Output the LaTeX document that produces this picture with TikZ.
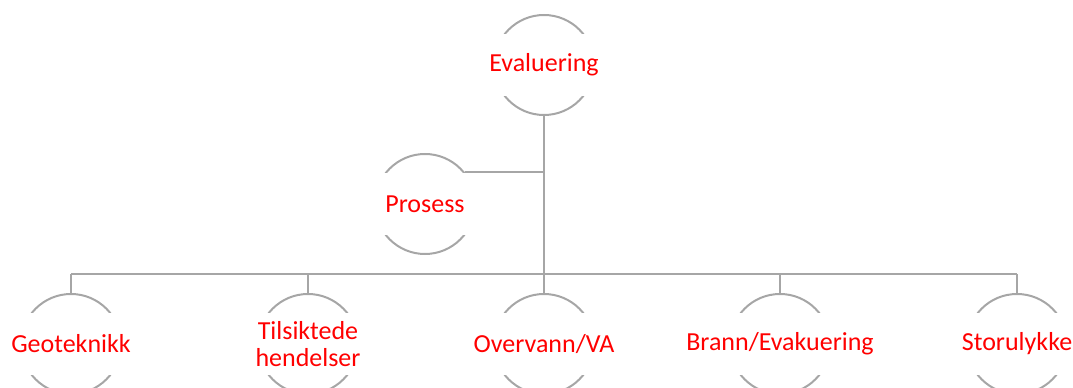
\documentclass[tikz,border=0pt]{standalone}
\usepackage{fontspec}
\setmainfont{Carlito}
\usepackage{tikz}
\usepackage{xcolor}
\definecolor{linegray}{RGB}{166,166,166}
\tikzset{every picture/.style={line width=0.75pt}}
\tikzset{
  ring/.style={circle, draw=linegray, line width=1.5pt, minimum size=75pt, inner sep=0pt},
  ringtext/.style={fill=white, text=red, font=\fontsize{19.5}{20.5}\selectfont, align=center, minimum width=82pt, minimum height=47pt, inner sep=0pt},
  link/.style={draw=linegray, line width=1.5pt}
}

\begin{document}
\begin{tikzpicture}[x=0.75pt,y=0.75pt,yscale=-1,xscale=1]
\useasboundingbox (0,0) rectangle (1073,388);

%Shape: Circle [top]
\node [ring] (eval) at (544,65) {};
%Shape: Circle [side]
\node [ring] (pros) at (425,204) {};
%Shape: Circle [bottom row]
\node [ring] (geo) at (71,344) {};
\node [ring] (tils) at (308,344) {};
\node [ring] (over) at (544,344) {};
\node [ring] (brann) at (780,344) {};
\node [ring] (stor) at (1017,344) {};

% Text Node
\node [ringtext] (evalT) at (eval.center) {Evaluering};
% Text Node
\node [ringtext] (prosT) at (pros.center) {Prosess};
% Text Node
\node [ringtext] (geoT) at (geo.center) {Geoteknikk};
% Text Node
\node [ringtext] (tilsT) at (tils.center) {Tilsiktede\\hendelser};
% Text Node
\node [ringtext] (overT) at (over.center) {Overvann/VA};
% Text Node
\node [ringtext] (brannT) at (brann.center) {Brann/Evakuering};
% Text Node
\node [ringtext] (storT) at (stor.center) {Storulykke};

%Straight Lines [trunk and bus]
\coordinate (bus) at (544,274);
\draw [link] (eval.south) -- (eval.south |- bus);
\draw [link] (geo.north |- bus) -- (stor.north |- bus);
%Straight Lines [side branch]
\draw [link] (pros.39) -- (pros.39 -| eval.south);
%Straight Lines [drops]
\draw [link] (geo.north |- bus) -- (geo.north);
\draw [link] (tils.north |- bus) -- (tils.north);
\draw [link] (over.north |- bus) -- (over.north);
\draw [link] (brann.north |- bus) -- (brann.north);
\draw [link] (stor.north |- bus) -- (stor.north);

\end{tikzpicture}
\end{document}
